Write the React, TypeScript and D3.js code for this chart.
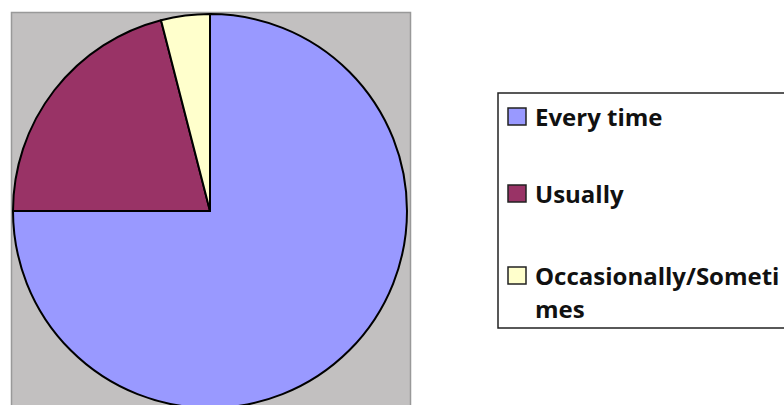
import React from "react";
import * as d3 from "d3";

const categories = ["Every time", "Usually", "Occasionally/Sometimes"];
const values = [75, 21, 4];
const colors = ["#9999FF", "#993366", "#FFFFCC"];
const legendLines = [["Every time"], ["Usually"], ["Occasionally/Someti", "mes"]];

export default function App() {
  const W = 784, H = 405;
  const cx = 210, cy = 211, r = 197;
  const pie = d3.pie<number>().sort(null).value((d) => d)(values);
  const arc = d3.arc<d3.PieArcDatum<number>>().innerRadius(0).outerRadius(r);
  const rowY = [126, 203, 285];
  return (
    <svg width={W} height={H} style={{ position: "absolute", left: 0, top: 0, background: "#fff" }}>
      <rect x={11.5} y={12.5} width={399} height={400} fill="#C2C0C0" stroke="#999" strokeWidth={1.5} />
      <g transform={`translate(${cx},${cy})`}>
        {pie.map((p, i) => (
          <path key={i} d={arc(p) || ""} fill={colors[i]} stroke="#000" strokeWidth={2} strokeLinejoin="round" />
        ))}
      </g>
      <rect x={498} y={93} width={300} height={235} fill="#fff" stroke="#222" strokeWidth={1.5} />
      {categories.map((c, i) => (
        <g key={c}>
          <rect x={508} y={rowY[i] - 18} width={18} height={17} fill={colors[i]} stroke="#222" strokeWidth={1.5} />
          <text x={535} y={rowY[i]} fontFamily="'Open Sans', Lato, sans-serif" fontWeight="bold" fontSize={24} fill="#111">
            {legendLines[i].map((ln, j) => (
              <tspan key={j} x={535} dy={j === 0 ? 0 : 33}>{ln}</tspan>
            ))}
          </text>
        </g>
      ))}
    </svg>
  );
}
